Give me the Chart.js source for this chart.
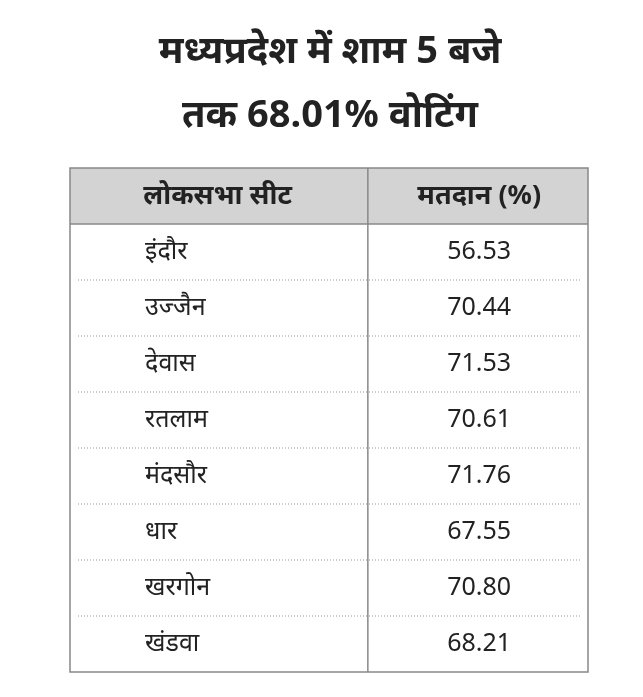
<!DOCTYPE html>
<html><head><meta charset="utf-8">
<script src="https://cdn.jsdelivr.net/npm/chart.js@4/dist/chart.umd.min.js"></script>
<style>
html,body{margin:0;padding:0;background:#fff;width:643px;height:697px;overflow:hidden}
#title{position:absolute;left:0;top:16px;width:660px;text-align:center;font-family:"Noto Sans",sans-serif;font-weight:700;font-size:38px;line-height:64px;color:#222}
canvas{position:absolute;left:0;top:0}
</style></head><body>
<canvas id="c" width="643" height="697"></canvas>
<div id="title">मध्यप्रदेश में शाम 5 बजे<br>तक 68.01% वोटिंग</div>
<script>
const headers = ['लोकसभा सीट', 'मतदान (%)'];
const seats = ['इंदौर','उज्जैन','देवास','रतलाम','मंदसौर','धार','खरगोन','खंडवा'];
const turnout = ['56.53','70.44','71.53','70.61','71.76','67.55','70.80','68.21'];
const rowLabels = ['header', ...seats];

const tablePlugin = {
  id: 'table',
  afterDraw(chart){
    const ctx = chart.ctx, x = chart.scales.x, y = chart.scales.y, a = chart.chartArea;
    const band = (y.getPixelForValue(1) - y.getPixelForValue(0));
    const top = i => y.getPixelForValue(i) - band/2;
    ctx.save();
    ctx.fillStyle = '#d3d3d3';
    ctx.fillRect(a.left, top(0), a.right - a.left, band);
    ctx.strokeStyle = '#888'; ctx.lineWidth = 1.5;
    ctx.strokeRect(a.left, top(0), a.right - a.left, a.bottom - top(0));
    const divX = x.getPixelForValue(0.575);
    ctx.beginPath(); ctx.moveTo(divX, top(0)); ctx.lineTo(divX, a.bottom); ctx.stroke();
    ctx.beginPath(); ctx.moveTo(a.left, top(1)); ctx.lineTo(a.right, top(1)); ctx.stroke();
    ctx.strokeStyle = '#999'; ctx.lineWidth = 1; ctx.setLineDash([1,2]);
    for (let i = 2; i <= seats.length; i++){
      ctx.beginPath(); ctx.moveTo(a.left+8, top(i)); ctx.lineTo(a.right-8, top(i)); ctx.stroke();
    }
    ctx.setLineDash([]);
    ctx.textBaseline = 'middle'; ctx.fillStyle = '#222';
    ctx.font = 'bold 27px "Noto Sans", sans-serif';
    ctx.textAlign = 'center';
    ctx.fillText(headers[0], x.getPixelForValue(0.285), y.getPixelForValue(0));
    ctx.fillText(headers[1], x.getPixelForValue(0.79), y.getPixelForValue(0));
    ctx.font = '25px "Noto Sans", sans-serif';
    seats.forEach((s, i) => {
      ctx.textAlign = 'left';
      ctx.fillText(s, x.getPixelForValue(0.145), y.getPixelForValue(i+1));
      ctx.textAlign = 'center';
      ctx.fillText(turnout[i], x.getPixelForValue(0.79), y.getPixelForValue(i+1));
    });
    ctx.restore();
  }
};

new Chart(document.getElementById('c'), {
  type: 'scatter',
  data: { labels: rowLabels, datasets: [{ data: [], pointRadius: 0 }] },
  options: {
    responsive: false, animation: false,
    layout: { padding: { left: 70, right: 55, top: 168, bottom: 25 } },
    plugins: { legend: { display: false }, tooltip: { enabled: false } },
    scales: {
      x: { type: 'linear', min: 0, max: 1, display: false },
      y: { type: 'category', labels: rowLabels, offset: true, display: false }
    }
  },
  plugins: [tablePlugin]
});
</script>
</body></html>
